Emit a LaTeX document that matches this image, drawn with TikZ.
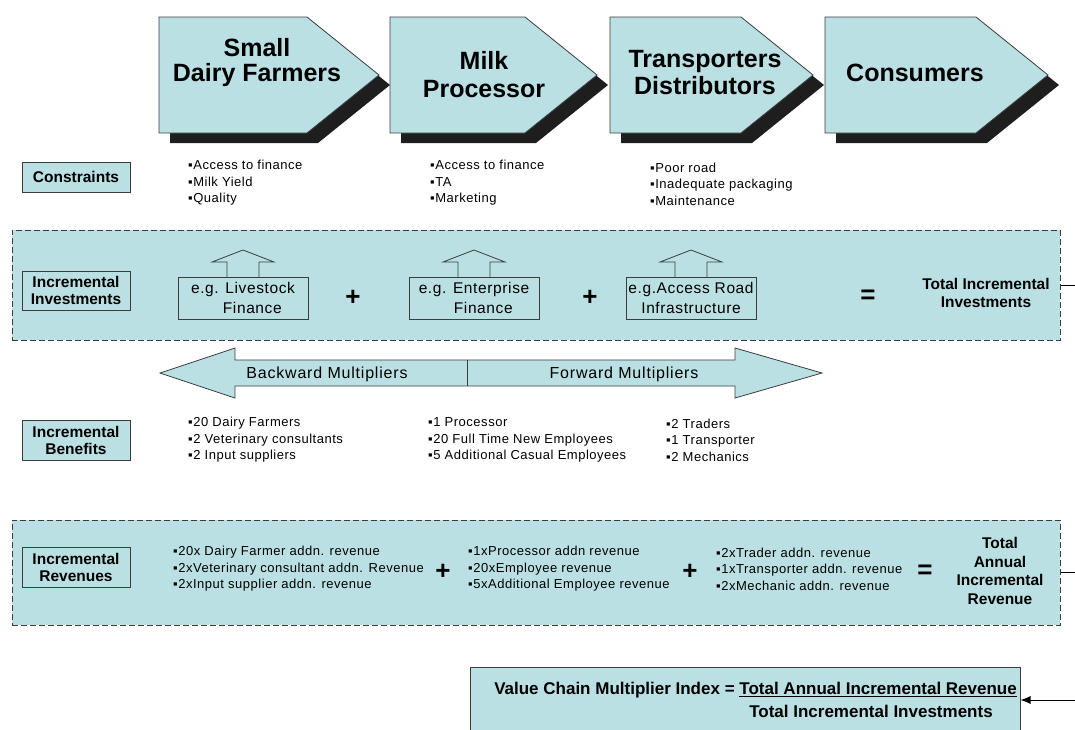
\documentclass[tikz,border=0pt]{standalone}
\usepackage{fontspec}
\setmainfont{Liberation Sans}
\usetikzlibrary{positioning,arrows.meta}

\definecolor{chainblue}{RGB}{186,224,227}
\definecolor{chainshade}{RGB}{30,30,30}
\definecolor{chainline}{RGB}{60,60,60}

\tikzset{
  stage/.style={align=center,inner sep=0,font=\fontsize{25}{#1}\selectfont\bfseries},
  rowlabel/.style={draw=chainline,line width=1pt,fill=chainblue,minimum width=108,
    minimum height=#1,align=center,inner sep=0,font=\fontsize{15.5}{17}\selectfont\bfseries},
  items/.style={anchor=west,align=left,inner sep=0,
    font=\fontsize{13}{16.5}\selectfont\addfontfeature{LetterSpace=4}},
  panel/.style={draw=chainline,line width=1pt,dash pattern=on 6pt off 3pt,fill=chainblue,
    minimum width=1048,minimum height=#1,inner sep=0},
  finbox/.style={draw=chainline,line width=0.8pt,fill=chainblue,minimum width=130,
    minimum height=42,align=center,inner sep=0,
    font=\fontsize{15.5}{20}\selectfont\addfontfeature{LetterSpace=4}},
  multiplier/.style={inner sep=0,font=\fontsize{16}{16}\selectfont\addfontfeature{LetterSpace=5}},
  sign/.style={inner sep=0,font=\fontsize{26}{26}\selectfont\bfseries},
  total/.style={align=center,inner sep=0,font=\fontsize{15.5}{#1}\selectfont\bfseries},
}

\begin{document}
\begin{tikzpicture}[x=1pt,y=-1pt]
  \useasboundingbox (0,0) rectangle (1075,729);

  % value chain stages
  \foreach \l/\r in {159/307,390/525,610/741,825/976}{
    \fill[chainshade] (\l+11,27) -- (\r+11,27) -- (\r+83,85) -- (\r+11,143) -- (\l+11,143) -- cycle;
    \draw[chainline,fill=chainblue,line width=0.8pt] (\l,17) -- (\r,17) -- (\r+72,75) -- (\r,133) -- (\l,133) -- cycle;
  }
  \node[stage=25] (farmers) at (257,63) {Small\\Dairy Farmers};
  \node[stage=28] (processor) at (484,75) {Milk\\Processor};
  \node[stage=27] (transport) at (705,73) {Transporters\\Distributors};
  \node[stage=25] (consumers) at (915,73) {Consumers};

  % constraints
  \node[rowlabel=30] (constraints) at (76,177) {Constraints};
  \node[items] (conFarm) at (188,183) {▪Access to finance\\▪Milk Yield\\▪Quality};
  \node[items] (conProc) at (430,183) {▪Access to finance\\▪TA\\▪Marketing};
  \node[items] (conTrans) at (650,184) {▪Poor road\\▪Inadequate packaging\\▪Maintenance};

  % incremental investments
  \node[panel=110] (investpanel) at (536,285) {};
  \node[rowlabel=39] (investments) at (76,290.5) {Incremental\\Investments};
  \foreach \c in {243,474,691}{
    \draw[chainline,fill=chainblue,line width=0.8pt] (\c-16,278) -- (\c-16,262) -- (\c-31,262) -- (\c,250)
      -- (\c+31,262) -- (\c+16,262) -- (\c+16,278);
  }
  \node[finbox] (livestock) at (243,298) {e.g. Livestock\\\hspace*{1.2em}Finance};
  \node[finbox] (enterprise) at (474,298) {e.g. Enterprise\\\hspace*{1.2em}Finance};
  \node[finbox] (road) at (691,298) {e.g.Access Road\\Infrastructure};
  \node[sign] (plusA) at (353,298) {+};
  \node[sign] (plusB) at (590,298) {+};
  \node[sign] (equalA) at (868,297) {=};
  \node[total=18] (totalinvest) at (986,293) {Total Incremental\\Investments};

  % multipliers
  \draw[chainline,fill=chainblue,line width=0.8pt] (160,373) -- (235,348) -- (235,360) -- (735,360) -- (735,348)
    -- (822,373) -- (735,398) -- (735,386) -- (235,386) -- (235,398) -- cycle;
  \draw[chainline,line width=0.8pt] (467,360) -- (467,386);
  \node[multiplier] (backward) at (327,374) {Backward Multipliers};
  \node[multiplier] (forward) at (624,374) {Forward Multipliers};

  % incremental benefits
  \node[rowlabel=40] (benefits) at (76,440) {Incremental\\Benefits};
  \node[items] (benFarm) at (188,440) {▪20 Dairy Farmers\\▪2 Veterinary consultants\\▪2 Input suppliers};
  \node[items] (benProc) at (428,440) {▪1 Processor\\▪20 Full Time New Employees\\▪5 Additional Casual Employees};
  \node[items] (benTrans) at (666,440) {▪2 Traders\\▪1 Transporter\\▪2 Mechanics};

  % incremental revenues
  \node[panel=105] (revpanel) at (536,572.5) {};
  \node[rowlabel=40] (revenues) at (76,567) {Incremental\\Revenues};
  \node[items] (revFarm) at (173,569) {▪20x Dairy Farmer addn. revenue\\▪2xVeterinary consultant addn. Revenue\\▪2xInput supplier addn. revenue};
  \node[items] (revProc) at (468,569) {▪1xProcessor addn revenue\\▪20xEmployee revenue\\▪5xAdditional Employee revenue};
  \node[items] (revTrans) at (716,569) {▪2xTrader addn. revenue\\▪1xTransporter addn. revenue\\▪2xMechanic addn. revenue};
  \node[sign] (plusC) at (443,572) {+};
  \node[sign] (plusD) at (690,572) {+};
  \node[sign] (equalB) at (925,572) {=};
  \node[total=18.5] (totalrev) at (1000,571) {Total\\Annual\\Incremental\\Revenue};

  % multiplier index
  \node[draw=chainline,line width=1pt,fill=chainblue,minimum width=550,minimum height=100,inner sep=0] (index) at (745,717) {};
  \node[anchor=east,inner sep=0,font=\fontsize{17}{17}\selectfont\bfseries] (numerator) at (1017,690)
    {Value Chain Multiplier Index = \underline{Total Annual Incremental Revenue}};
  \node[inner sep=0,font=\fontsize{17}{17}\selectfont\bfseries] (denominator) at (871,711) {Total Incremental Investments};

  \coordinate (feed) at (1090,700);
  \draw[line width=0.8pt,-{Latex[length=10pt,width=8pt]}] (investpanel.east) -| (feed) -- (feed -| index.east);
  \draw[line width=0.8pt] (revpanel.east) -- (revpanel.east -| feed);
\end{tikzpicture}
\end{document}
